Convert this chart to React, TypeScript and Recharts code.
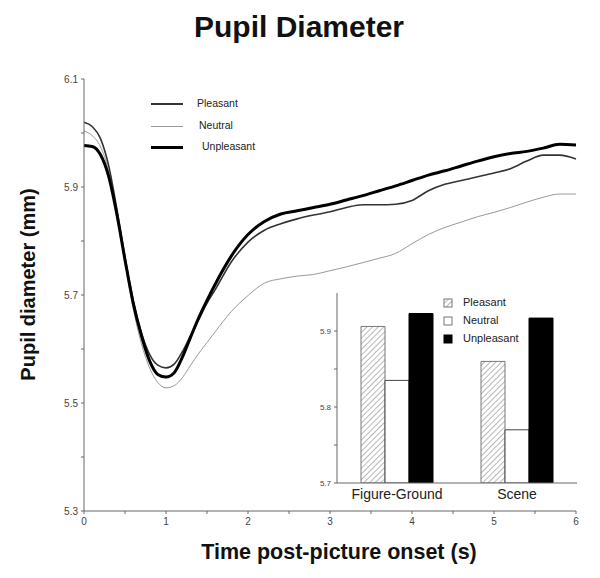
import React from 'react';
import { LineChart, Line, BarChart, Bar, XAxis, YAxis } from 'recharts';

// time after picture onset (s)
const times = [0, 0.1, 0.2, 0.3, 0.4, 0.5, 0.6, 0.7, 0.8, 0.9, 1.0, 1.1, 1.2, 1.3, 1.4, 1.5, 1.6, 1.8, 2.0, 2.2, 2.4, 2.6, 2.8, 3.0, 3.2, 3.4, 3.6, 3.8, 4.0, 4.2, 4.4, 4.6, 4.8, 5.0, 5.2, 5.4, 5.6, 5.8, 6.0];

const pleasant = [6.02, 6.012, 5.99, 5.94, 5.86, 5.77, 5.69, 5.63, 5.59, 5.57, 5.565, 5.572, 5.595, 5.625, 5.655, 5.685, 5.71, 5.762, 5.798, 5.82, 5.832, 5.841, 5.848, 5.854, 5.862, 5.867, 5.867, 5.868, 5.875, 5.893, 5.905, 5.912, 5.919, 5.926, 5.934, 5.948, 5.959, 5.959, 5.952];
const neutral = [6.004, 5.995, 5.975, 5.93, 5.85, 5.76, 5.675, 5.61, 5.565, 5.538, 5.528, 5.532, 5.547, 5.57, 5.592, 5.612, 5.632, 5.67, 5.699, 5.722, 5.73, 5.735, 5.738, 5.745, 5.752, 5.76, 5.768, 5.777, 5.795, 5.812, 5.825, 5.835, 5.845, 5.853, 5.862, 5.872, 5.881, 5.887, 5.887];
const unpleasant = [5.977, 5.975, 5.96, 5.92, 5.85, 5.765, 5.685, 5.625, 5.578, 5.553, 5.548, 5.556, 5.585, 5.622, 5.658, 5.69, 5.72, 5.773, 5.812, 5.836, 5.85, 5.856, 5.862, 5.868, 5.876, 5.884, 5.893, 5.902, 5.912, 5.922, 5.93, 5.939, 5.948, 5.956, 5.962, 5.966, 5.972, 5.979, 5.978];

const yTicks = [5.3, 5.4, 5.5, 5.6, 5.7, 5.8, 5.9, 6.0, 6.1];
const yLabeled = [5.3, 5.5, 5.7, 5.9, 6.1];
const xTicks = [0, 0.5, 1, 1.5, 2, 2.5, 3, 3.5, 4, 4.5, 5, 5.5, 6];

// inset: mean diameter by task
const tasks = ['Figure-Ground', 'Scene'];
const insetPleasant = [5.906, 5.86];
const insetNeutral = [5.835, 5.77];
const insetUnpleasant = [5.923, 5.917];
const insetTicks = [5.7, 5.75, 5.8, 5.85, 5.9];
const insetLabeled = [5.7, 5.8, 5.9];

const font = "'Liberation Sans', Arial, sans-serif";

const lineData = times.map((t, i) => ({
  t,
  pleasant: pleasant[i],
  neutral: neutral[i],
  unpleasant: unpleasant[i],
}));

const barData = tasks.map((cat, i) => ({
  cat,
  pleasant: insetPleasant[i],
  neutral: insetNeutral[i],
  unpleasant: insetUnpleasant[i],
}));

const legendRows = [
  { label: 'Pleasant', color: '#333', width: 1.6, textX: 197, y: 104 },
  { label: 'Neutral', color: '#999', width: 1, textX: 199, y: 126 },
  { label: 'Unpleasant', color: '#000', width: 3, textX: 202, y: 147 },
];

const insetLegend = [
  { label: 'Pleasant', y: 303 },
  { label: 'Neutral', y: 321 },
  { label: 'Unpleasant', y: 339 },
];

const abs = (left: number, top: number): React.CSSProperties => ({
  position: 'absolute',
  left,
  top,
  fontFamily: font,
  whiteSpace: 'nowrap',
});

export default function App() {
  return (
    <div style={{ position: 'absolute', left: 0, top: 0, width: 600, height: 578, background: '#fff', fontFamily: font }}>
      <div style={{ ...abs(0, 10), width: 598, textAlign: 'center', fontSize: 30, fontWeight: 'bold', color: '#111' }}>
        Pupil Diameter
      </div>

      <LineChart width={600} height={578} data={lineData} margin={{ top: 79, right: 24, bottom: 37, left: 44 }}>
        <XAxis
          dataKey="t"
          type="number"
          domain={[0, 6]}
          ticks={xTicks}
          tickFormatter={(v: number) => (Number.isInteger(v) ? String(v) : '')}
          tick={{ fontSize: 10, fill: '#444', fontFamily: font }}
          tickSize={3}
          tickMargin={4}
          height={30}
          stroke="#666"
        />
        <YAxis
          type="number"
          domain={[5.3, 6.1]}
          ticks={yTicks}
          tickFormatter={(v: number) => (yLabeled.includes(v) ? v.toFixed(1) : '')}
          tick={{ fontSize: 10, fill: '#444', fontFamily: font }}
          tickSize={3}
          tickMargin={3}
          width={40}
          stroke="#666"
        />
        <Line type="monotone" dataKey="neutral" stroke="#999" strokeWidth={1} dot={false} isAnimationActive={false} />
        <Line type="monotone" dataKey="pleasant" stroke="#333" strokeWidth={1.6} dot={false} isAnimationActive={false} />
        <Line type="monotone" dataKey="unpleasant" stroke="#000" strokeWidth={3} dot={false} isAnimationActive={false} />
      </LineChart>

      {legendRows.map((r) => (
        <React.Fragment key={r.label}>
          <div style={{ position: 'absolute', left: 151, top: r.y - r.width / 2, width: 32, height: r.width, background: r.color }} />
          <div style={{ ...abs(r.textX, r.y - 7), fontSize: 10.5, color: '#222' }}>{r.label}</div>
        </React.Fragment>
      ))}

      <div style={{ position: 'absolute', left: 297, top: 283 }}>
        <BarChart width={300} height={230} data={barData} margin={{ top: 10, right: 20, bottom: 8, left: 0 }} barCategoryGap="20%" barGap={0}>
          <defs>
            <pattern id="hatch" width="4" height="4" patternUnits="userSpaceOnUse" patternTransform="rotate(45)">
              <rect width="4" height="4" fill="#fff" />
              <line x1="0" y1="0" x2="0" y2="4" stroke="#888" strokeWidth="1.2" />
            </pattern>
          </defs>
          <XAxis
            dataKey="cat"
            tickLine={false}
            tickSize={0}
            tickMargin={6}
            height={22}
            stroke="#666"
            tick={{ fontSize: 14, fill: '#222', fontFamily: font }}
          />
          <YAxis
            type="number"
            domain={[5.7, 5.95]}
            ticks={insetTicks}
            tickFormatter={(v: number) => (insetLabeled.includes(v) ? v.toFixed(1) : '')}
            tick={{ fontSize: 8, fill: '#444', fontFamily: font }}
            tickSize={3}
            tickMargin={3}
            width={40}
            stroke="#666"
            allowDataOverflow
          />
          <Bar dataKey="pleasant" fill="url(#hatch)" stroke="#777" strokeWidth={1} isAnimationActive={false} />
          <Bar dataKey="neutral" fill="#fff" stroke="#444" strokeWidth={1} isAnimationActive={false} />
          <Bar dataKey="unpleasant" fill="#000" stroke="#000" strokeWidth={1} isAnimationActive={false} />
        </BarChart>
      </div>

      {insetLegend.map((r, i) => (
        <React.Fragment key={r.label}>
          <svg style={{ position: 'absolute', left: 443, top: r.y - 5 }} width={10} height={10}>
            {i === 0 && <rect x={1} y={1} width={8} height={8} fill="url(#hatch)" stroke="#777" />}
            {i === 1 && <rect x={1} y={1} width={8} height={8} fill="#fff" stroke="#777" />}
            {i === 2 && <rect x={1} y={1} width={8} height={8} fill="#000" stroke="#000" />}
          </svg>
          <div style={{ ...abs(463, r.y - 7), fontSize: 11, color: '#222' }}>{r.label}</div>
        </React.Fragment>
      ))}

      <div style={{ ...abs(0, 540), width: 678, textAlign: 'center', fontSize: 21.5, fontWeight: 'bold', color: '#111' }}>
        Time post-picture onset (s)
      </div>
      <div
        style={{
          ...abs(28 - 150, 284 - 11.5),
          width: 300,
          height: 23,
          lineHeight: '23px',
          textAlign: 'center',
          fontSize: 20,
          fontWeight: 'bold',
          color: '#111',
          transform: 'rotate(-90deg)',
        }}
      >
        Pupil diameter (mm)
      </div>
    </div>
  );
}
